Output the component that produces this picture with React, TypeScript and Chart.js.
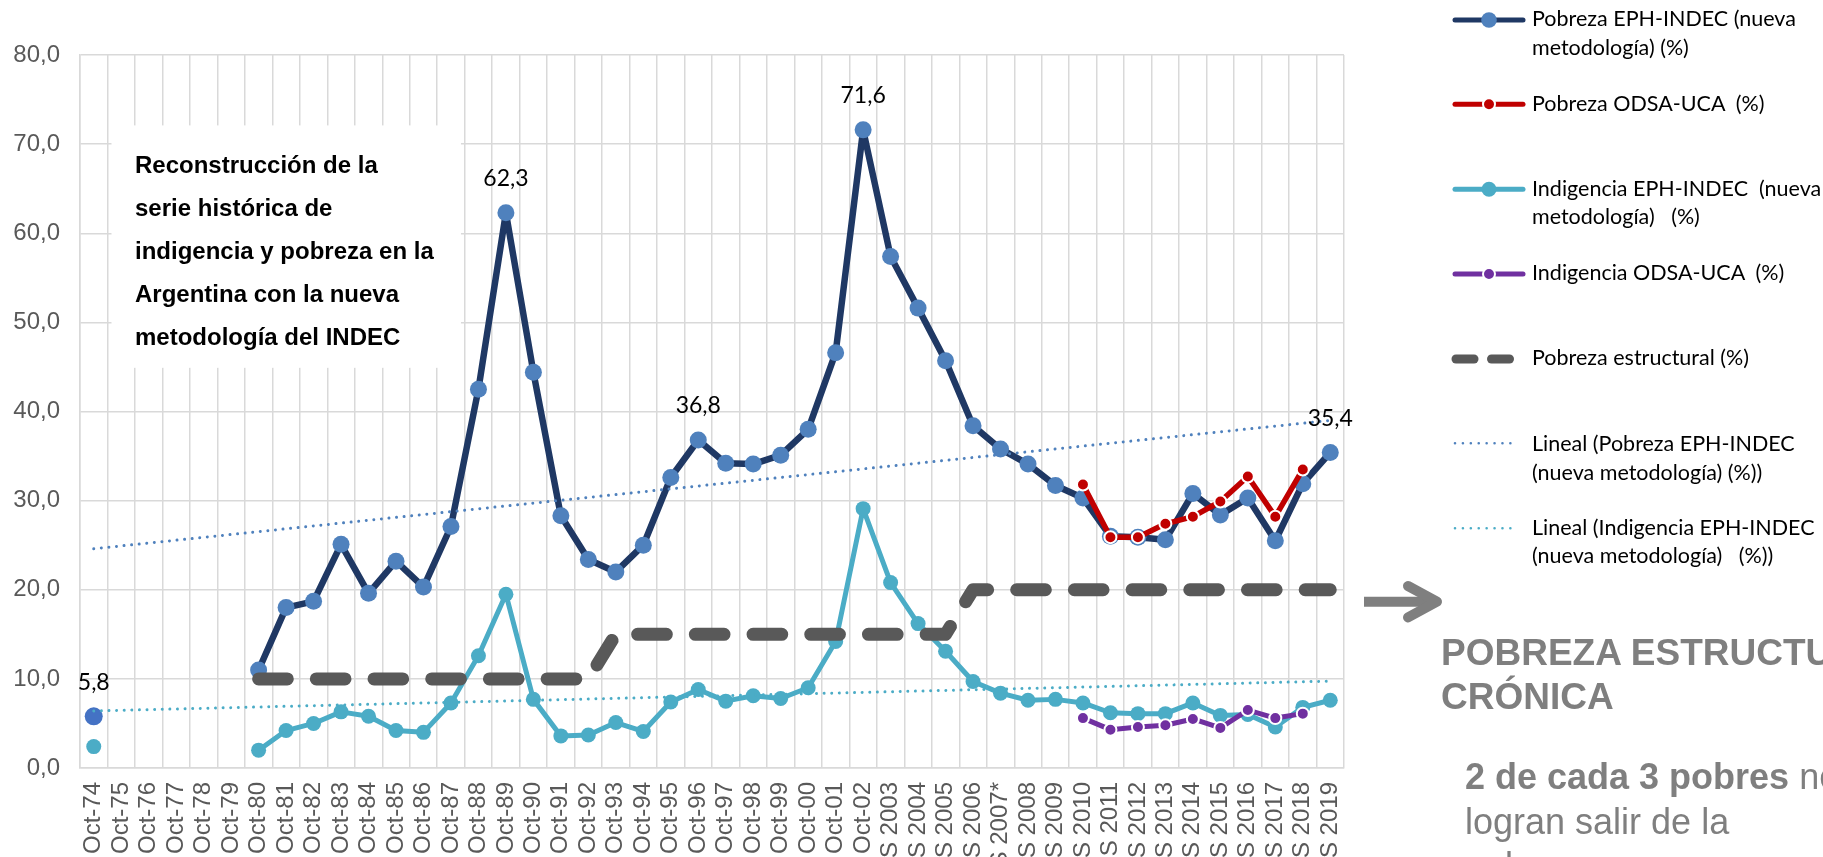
import React, { useEffect, useRef } from "react";
import { Chart, registerables } from "chart.js";

Chart.register(...registerables);

const categories: string[] = [
  "Oct-74", "Oct-75", "Oct-76", "Oct-77", "Oct-78", "Oct-79", "Oct-80", "Oct-81", "Oct-82", "Oct-83",
  "Oct-84", "Oct-85", "Oct-86", "Oct-87", "Oct-88", "Oct-89", "Oct-90", "Oct-91", "Oct-92", "Oct-93",
  "Oct-94", "Oct-95", "Oct-96", "Oct-97", "Oct-98", "Oct-99", "Oct-00", "Oct-01", "Oct-02",
  "IS 2003", "IS 2004", "IS 2005", "IS 2006", "IS 2007*", "IS 2008", "IS 2009", "IS 2010", "IS 2011",
  "IS 2012", "IS 2013", "IS 2014", "IS 2015", "IS 2016", "IS 2017", "IS 2018", "IS 2019",
];

const pobrezaEPH: (number | null)[] = [
  5.8, null, null, null, null, null, 11.0, 18.0, 18.7, 25.1,
  19.6, 23.2, 20.3, 27.1, 42.5, 62.3, 44.4, 28.3, 23.4, 22.0,
  25.0, 32.6, 36.8, 34.2, 34.1, 35.1, 38.0, 46.6, 71.6,
  57.4, 51.6, 45.7, 38.4, 35.8, 34.1, 31.7, 30.3, 26.0,
  25.9, 25.6, 30.8, 28.4, 30.3, 25.5, 31.9, 35.4,
];

const pobrezaODSA: (number | null)[] = [
  null, null, null, null, null, null, null, null, null, null,
  null, null, null, null, null, null, null, null, null, null,
  null, null, null, null, null, null, null, null, null,
  null, null, null, null, null, null, null, 31.8, 25.9,
  25.9, 27.4, 28.2, 29.9, 32.7, 28.2, 33.5, null,
];

const indigenciaEPH: (number | null)[] = [
  2.4, null, null, null, null, null, 2.0, 4.2, 5.0, 6.3,
  5.8, 4.2, 4.0, 7.3, 12.6, 19.5, 7.7, 3.6, 3.7, 5.1,
  4.1, 7.4, 8.8, 7.5, 8.1, 7.8, 9.0, 14.2, 29.1,
  20.8, 16.2, 13.1, 9.7, 8.4, 7.6, 7.7, 7.3, 6.2,
  6.1, 6.1, 7.3, 5.9, 6.0, 4.6, 6.8, 7.6,
];

const indigenciaODSA: (number | null)[] = [
  null, null, null, null, null, null, null, null, null, null,
  null, null, null, null, null, null, null, null, null, null,
  null, null, null, null, null, null, null, null, null,
  null, null, null, null, null, null, null, 5.6, 4.3,
  4.6, 4.8, 5.5, 4.5, 6.5, 5.6, 6.1, null,
];

const pobrezaEstructural: (number | null)[] = [
  null, null, null, null, null, null, 10, 10, 10, 10,
  10, 10, 10, 10, 10, 10, 10, 10, 10, 15,
  15, 15, 15, 15, 15, 15, 15, 15, 15,
  15, 15, 15, 20, 20, 20, 20, 20, 20,
  20, 20, 20, 20, 20, 20, 20, 20,
];

// Linear trend lines: only the two end values
const trendPobreza: (number | null)[] = categories.map((_, i) =>
  i === 0 ? 24.6 : i === categories.length - 1 ? 39.0 : null
);
const trendIndigencia: (number | null)[] = categories.map((_, i) =>
  i === 0 ? 6.4 : i === categories.length - 1 ? 9.75 : null
);

const labeledIndices: number[] = [0, 15, 22, 28, 45];

const yTicks: number[] = [0, 10, 20, 30, 40, 50, 60, 70, 80];

const boxLines: string[] = [
  "Reconstrucción de la",
  "serie histórica de",
  "indigencia y pobreza en la",
  "Argentina con la nueva",
  "metodología del INDEC",
];

const legendLabels: string[] = [
  "Pobreza EPH-INDEC (nueva\nmetodología) (%)",
  "Pobreza ODSA-UCA  (%)",
  "Indigencia EPH-INDEC  (nueva\nmetodología)   (%)",
  "Indigencia ODSA-UCA  (%)",
  "Pobreza estructural (%)",
  "Lineal (Pobreza EPH-INDEC\n(nueva metodología) (%))",
  "Lineal (Indigencia EPH-INDEC\n(nueva metodología)   (%))",
];

const NAVY = "#1F3864";
const BLUE = "#4F81BD";
const FIRSTBLUE = "#4472C4";
const RED = "#C00000";
const TEAL = "#4BACC6";
const PURPLE = "#7030A0";
const DARKGREY = "#595959";
const GRID = "#d9d9d9";
const SIDEGREY = "#7F7F7F";

const fmt = (v: number) => v.toFixed(1).replace(".", ",");

export default function App() {
  const canvasRef = useRef<HTMLCanvasElement | null>(null);

  useEffect(() => {
    const canvas = canvasRef.current;
    if (!canvas) return;

    const boxPlugin = {
      id: "boxPlugin",
      beforeDatasetsDraw(chart: any) {
        const ctx = chart.ctx;
        const x = chart.scales.x;
        const y = chart.scales.y;
        const left = x.getPixelForValue(1) - x.width / categories.length / 2 + 4;
        const right = x.getPixelForValue(13) + 10;
        const top = y.getPixelForValue(72.1);
        const bottom = y.getPixelForValue(44.9);
        ctx.save();
        ctx.fillStyle = "#ffffff";
        ctx.fillRect(left, top, right - left, bottom - top);
        ctx.fillStyle = "#000000";
        ctx.font = 'bold 24px "Liberation Sans", Arial, sans-serif';
        ctx.textBaseline = "alphabetic";
        ctx.textAlign = "left";
        boxLines.forEach((line, i) => {
          ctx.fillText(line, 135, 173.3 + i * 43);
        });
        ctx.restore();
      },
    };

    const labelPlugin = {
      id: "labelPlugin",
      afterDatasetsDraw(chart: any) {
        const ctx = chart.ctx;
        const meta = chart.getDatasetMeta(0);
        ctx.save();
        ctx.fillStyle = "#000000";
        ctx.font = '23px Lato, "Noto Sans", sans-serif';
        ctx.textAlign = "center";
        ctx.textBaseline = "middle";
        labeledIndices.forEach((i) => {
          const v = pobrezaEPH[i];
          const el = meta.data[i];
          if (v == null || !el) return;
          ctx.fillText(fmt(v), el.x, el.y - 34);
        });
        ctx.restore();
      },
    };

    const chart = new Chart(canvas, {
      type: "line",
      data: {
        labels: categories,
        datasets: [
          {
            label: "Pobreza EPH-INDEC (nueva metodología) (%)",
            data: pobrezaEPH,
            borderColor: NAVY,
            borderWidth: 6.5,
            pointRadius: (c: any) => (c.dataIndex === 0 ? 9 : 8.5),
            pointBackgroundColor: (c: any) => (c.dataIndex === 0 ? FIRSTBLUE : BLUE),
            pointBorderWidth: 0,
            pointBorderColor: BLUE,
            borderJoinStyle: "round",
            tension: 0,
            spanGaps: false,
            order: 7,
          },
          {
            label: "Pobreza ODSA-UCA  (%)",
            data: pobrezaODSA,
            borderColor: RED,
            borderWidth: 5.5,
            pointRadius: 6,
            pointBackgroundColor: RED,
            pointBorderColor: "#ffffff",
            pointBorderWidth: 2,
            borderJoinStyle: "round",
            tension: 0,
            order: 6,
          },
          {
            label: "Indigencia EPH-INDEC  (nueva metodología)   (%)",
            data: indigenciaEPH,
            borderColor: TEAL,
            borderWidth: 5,
            pointRadius: 7.5,
            pointBackgroundColor: TEAL,
            pointBorderWidth: 0,
            pointBorderColor: TEAL,
            borderJoinStyle: "round",
            tension: 0,
            spanGaps: false,
            order: 5,
          },
          {
            label: "Indigencia ODSA-UCA  (%)",
            data: indigenciaODSA,
            borderColor: PURPLE,
            borderWidth: 5,
            pointRadius: 6,
            pointBackgroundColor: PURPLE,
            pointBorderColor: "#ffffff",
            pointBorderWidth: 2,
            borderJoinStyle: "round",
            tension: 0,
            order: 4,
          },
          {
            label: "Pobreza estructural (%)",
            data: pobrezaEstructural,
            borderColor: DARKGREY,
            borderWidth: 13,
            borderDash: [28.7, 29],
            borderCapStyle: "round",
            borderJoinStyle: "round",
            pointRadius: 0,
            tension: 0,
            order: 3,
          },
          {
            label: "Lineal (Pobreza EPH-INDEC (nueva metodología) (%))",
            data: trendPobreza,
            borderColor: BLUE,
            borderWidth: 3,
            borderDash: [0.01, 7.6],
            borderCapStyle: "round",
            pointRadius: 0,
            spanGaps: true,
            tension: 0,
            order: 2,
          },
          {
            label: "Lineal (Indigencia EPH-INDEC (nueva metodología)   (%))",
            data: trendIndigencia,
            borderColor: TEAL,
            borderWidth: 3,
            borderDash: [0.01, 7.6],
            borderCapStyle: "round",
            pointRadius: 0,
            spanGaps: true,
            tension: 0,
            order: 1,
          },
        ],
      },
      options: {
        responsive: false,
        animation: false,
        events: [],
        layout: { padding: { top: 55, right: 479, left: 0, bottom: 0 } },
        plugins: {
          legend: { display: false },
          tooltip: { enabled: false },
          title: { display: false },
        },
        scales: {
          x: {
            type: "category",
            offset: true,
            grid: { offset: true, color: GRID, lineWidth: 1.5, drawTicks: false },
            border: { display: true, color: GRID, width: 1.5 },
            ticks: {
              autoSkip: false,
              maxRotation: 90,
              minRotation: 90,
              padding: 14,
              color: DARKGREY,
              font: { family: '"Liberation Sans", Arial, sans-serif', size: 24 },
            },
            afterFit: (s: any) => {
              s.height = 89;
            },
          },
          y: {
            min: 0,
            max: 80,
            afterBuildTicks: (s: any) => {
              s.ticks = yTicks.map((v) => ({ value: v }));
            },
            ticks: {
              padding: 20,
              color: DARKGREY,
              font: { family: '"Liberation Sans", Arial, sans-serif', size: 24 },
              callback: (v: any) => fmt(Number(v)),
            },
            grid: { color: GRID, lineWidth: 1.5, drawTicks: false },
            border: { display: true, color: GRID, width: 1.5 },
            afterFit: (s: any) => {
              s.width = 80;
            },
          },
        },
      },
      plugins: [boxPlugin, labelPlugin],
    } as any);

    return () => {
      chart.destroy();
    };
  }, []);

  const swatchY = [20, 104.3, 189.3, 274, 359, 443.3, 528.3];
  const textBaselines = [26.7, 111.7, 196, 280.7, 365.7, 451.7, 535];

  return (
    <div
      style={{
        position: "fixed",
        left: 0,
        top: 0,
        width: 1823,
        height: 857,
        overflow: "hidden",
        background: "#ffffff",
      }}
    >
      <canvas
        ref={canvasRef}
        width={1823}
        height={857}
        style={{ position: "absolute", left: 0, top: 0, width: 1823, height: 857 }}
      />
      <svg
        width={1823}
        height={857}
        style={{ position: "absolute", left: 0, top: 0, pointerEvents: "none" }}
      >
        <line x1={1455} y1={swatchY[0]} x2={1523} y2={swatchY[0]} stroke={NAVY} strokeWidth={5} strokeLinecap="round" />
        <circle cx={1489} cy={swatchY[0]} r={7.8} fill={BLUE} />
        <line x1={1455} y1={swatchY[1]} x2={1523} y2={swatchY[1]} stroke={RED} strokeWidth={5} strokeLinecap="round" />
        <circle cx={1489} cy={swatchY[1]} r={6} fill={RED} stroke="#ffffff" strokeWidth={2} />
        <line x1={1455} y1={swatchY[2]} x2={1523} y2={swatchY[2]} stroke={TEAL} strokeWidth={5} strokeLinecap="round" />
        <circle cx={1489} cy={swatchY[2]} r={7.5} fill={TEAL} />
        <line x1={1455} y1={swatchY[3]} x2={1523} y2={swatchY[3]} stroke={PURPLE} strokeWidth={5} strokeLinecap="round" />
        <circle cx={1489} cy={swatchY[3]} r={6} fill={PURPLE} stroke="#ffffff" strokeWidth={2} />
        <line x1={1456} y1={swatchY[4]} x2={1474} y2={swatchY[4]} stroke={DARKGREY} strokeWidth={9} strokeLinecap="round" />
        <line x1={1491.5} y1={swatchY[4]} x2={1509.5} y2={swatchY[4]} stroke={DARKGREY} strokeWidth={9} strokeLinecap="round" />
        <line x1={1455} y1={swatchY[5]} x2={1518} y2={swatchY[5]} stroke={BLUE} strokeWidth={2.6} strokeLinecap="round" strokeDasharray="0.01 7.9" />
        <line x1={1455} y1={swatchY[6]} x2={1518} y2={swatchY[6]} stroke={TEAL} strokeWidth={2.6} strokeLinecap="round" strokeDasharray="0.01 7.9" />
        <line x1={1364} y1={601.7} x2={1432} y2={601.7} stroke={SIDEGREY} strokeWidth={10} />
        <polyline
          points="1408,586 1437,601.7 1408,617.4"
          fill="none"
          stroke={SIDEGREY}
          strokeWidth={10}
          strokeLinecap="round"
          strokeLinejoin="round"
        />
      </svg>
      {legendLabels.map((t, i) => (
        <div
          key={i}
          style={{
            position: "absolute",
            left: 1532,
            top: textBaselines[i] - 22.3,
            fontFamily: 'Lato, "Noto Sans", sans-serif',
            fontSize: 21.5,
            lineHeight: "28.5px",
            color: "#000000",
            whiteSpace: "pre",
          }}
        >
          {t}
        </div>
      ))}
      <div
        style={{
          position: "absolute",
          left: 1441,
          top: 631,
          fontFamily: '"Liberation Sans", Arial, sans-serif',
          fontWeight: "bold",
          fontSize: 37,
          lineHeight: "44px",
          color: SIDEGREY,
          whiteSpace: "pre",
        }}
      >
        {"POBREZA ESTRUCTURAL\nCRÓNICA"}
      </div>
      <div
        style={{
          position: "absolute",
          left: 1465,
          top: 755,
          fontFamily: '"Liberation Sans", Arial, sans-serif',
          fontSize: 36,
          lineHeight: "44.5px",
          color: SIDEGREY,
          whiteSpace: "pre",
        }}
      >
        <span style={{ fontWeight: "bold" }}>2 de cada 3 pobres</span>
        {" no\nlogran salir de la\npobreza"}
      </div>
    </div>
  );
}
